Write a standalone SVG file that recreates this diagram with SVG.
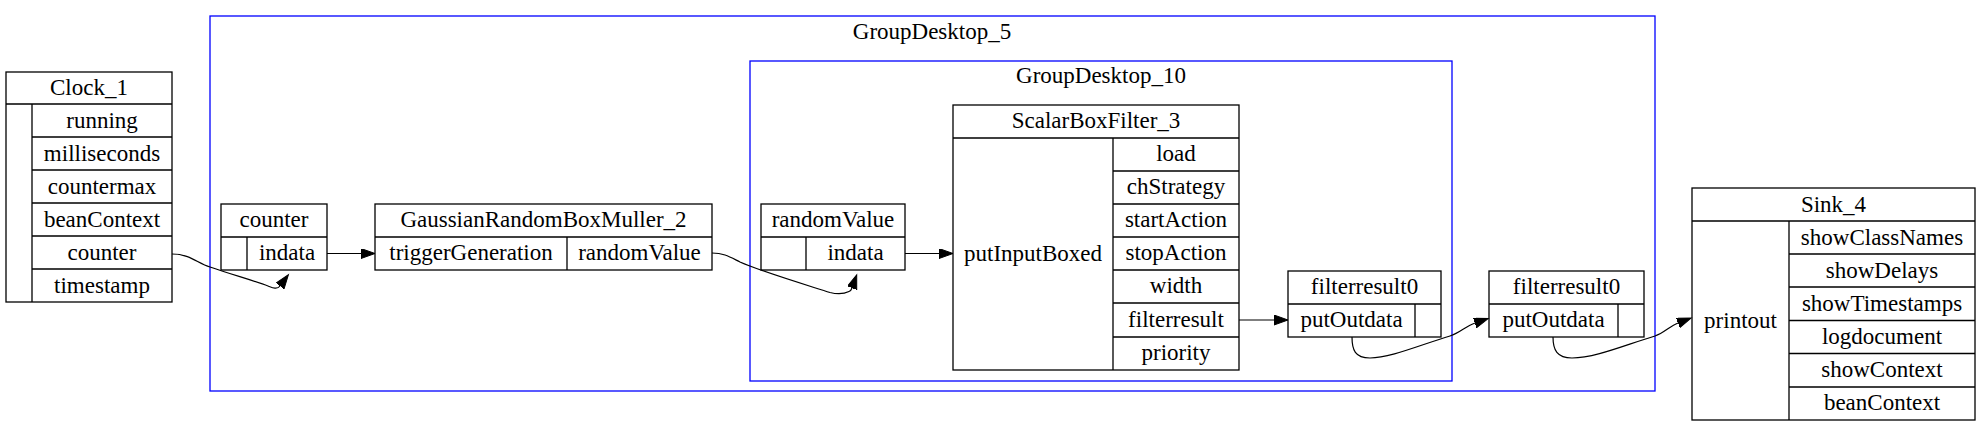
<svg xmlns="http://www.w3.org/2000/svg" width="1980" height="426" viewBox="0 0 1980 426">
<style>
text{font-family:'Liberation Serif',serif;font-size:23px;fill:#000;text-anchor:middle}
.box{fill:#fff;stroke:#000;stroke-width:1.3}
.ln{stroke:#000;stroke-width:1.3;fill:none}
.cl{fill:none;stroke:#0000ff;stroke-width:1.3}
.edge{fill:none;stroke:#000;stroke-width:1.2;marker-end:url(#arr)}
</style>
<defs>
<marker id="arr" markerUnits="userSpaceOnUse" markerWidth="16" markerHeight="12" refX="0" refY="5" orient="auto">
<path d="M0,0 L14,5 L0,10 z" fill="#000" stroke="#000" stroke-width="1"/>
</marker>
</defs>
<rect width="1980" height="426" fill="#fff"/>
<g id="GroupDesktop_5">
<rect class="cl" x="210" y="16" width="1445" height="375"/>
<text x="932" y="39">GroupDesktop_5</text>
</g>
<g id="GroupDesktop_10">
<rect class="cl" x="750" y="61" width="702" height="320"/>
<text x="1101" y="83">GroupDesktop_10</text>
</g>
<g id="Clock_1">
<rect class="box" x="6" y="72" width="166" height="230"/>
<path class="ln" d="M6,104H172M32,137H172M32,170H172M32,203H172M32,236H172M32,269H172M32,104V302"/>
<text x="89" y="95">Clock_1</text>
<text x="102" y="128">running</text>
<text x="102" y="161">milliseconds</text>
<text x="102" y="194">countermax</text>
<text x="102" y="227">beanContext</text>
<text x="102" y="260">counter</text>
<text x="102" y="293">timestamp</text>
</g>
<g id="counter">
<rect class="box" x="221" y="204" width="106" height="66"/>
<path class="ln" d="M221,237H327M247,237V270"/>
<text x="274" y="227">counter</text>
<text x="287" y="260">indata</text>
</g>
<g id="GaussianRandomBoxMuller_2">
<rect class="box" x="375" y="204" width="337" height="66"/>
<path class="ln" d="M375,237H712M567,237V270"/>
<text x="543.5" y="227">GaussianRandomBoxMuller_2</text>
<text x="471" y="260">triggerGeneration</text>
<text x="639.5" y="260">randomValue</text>
</g>
<g id="randomValue">
<rect class="box" x="761" y="204" width="144" height="66"/>
<path class="ln" d="M761,237H905M806,237V270"/>
<text x="833" y="227">randomValue</text>
<text x="855.5" y="260">indata</text>
</g>
<g id="ScalarBoxFilter_3">
<rect class="box" x="953" y="105" width="286" height="265"/>
<path class="ln" d="M953,138H1239M1113,138V370M1113,171H1239M1113,204H1239M1113,237H1239M1113,270H1239M1113,303H1239M1113,337H1239"/>
<text x="1096" y="128">ScalarBoxFilter_3</text>
<text x="1033" y="261">putInputBoxed</text>
<text x="1176" y="161">load</text>
<text x="1176" y="194">chStrategy</text>
<text x="1176" y="227">startAction</text>
<text x="1176" y="260">stopAction</text>
<text x="1176" y="293">width</text>
<text x="1176" y="327">filterresult</text>
<text x="1176" y="360">priority</text>
</g>
<g id="filterresult0_inner">
<rect class="box" x="1288" y="271" width="153" height="66"/>
<path class="ln" d="M1288,304H1441M1415,304V337"/>
<text x="1364.5" y="294">filterresult0</text>
<text x="1351.5" y="327">putOutdata</text>
</g>
<g id="filterresult0_outer">
<rect class="box" x="1489" y="271" width="155" height="66"/>
<path class="ln" d="M1489,304H1644M1618,304V337"/>
<text x="1566.5" y="294">filterresult0</text>
<text x="1553.5" y="327">putOutdata</text>
</g>
<g id="Sink_4">
<rect class="box" x="1692" y="188" width="283" height="232"/>
<path class="ln" d="M1692,221H1975M1789,221V420M1789,254H1975M1789,287H1975M1789,320.5H1975M1789,353.5H1975M1789,387H1975"/>
<text x="1833.5" y="212">Sink_4</text>
<text x="1740.5" y="328">printout</text>
<text x="1882" y="245">showClassNames</text>
<text x="1882" y="278">showDelays</text>
<text x="1882" y="311">showTimestamps</text>
<text x="1882" y="344">logdocument</text>
<text x="1882" y="377">showContext</text>
<text x="1882" y="410">beanContext</text>
</g>
<g id="connectors">
<path class="edge" d="M172,254 C190,254 197,263 210,267 C230,274 255,281 268,286 C272,287.5 277,290 280,286"/>
<path class="edge" d="M327,253.5 L361,253.5"/>
<path class="edge" d="M712,253 C724,253 730,257 740,262 C760,271 800,283 830,292.5 C840,295 846,293 849,291.5 C850.5,291 851,290.8 852,288"/>
<path class="edge" d="M905,253.5 L939,253.5"/>
<path class="edge" d="M1239,320 L1274,320"/>
<path class="edge" d="M1352,337 C1352,350 1355,358 1370,358 C1390,358 1420,345 1450,336 C1460,333 1466,326 1475,323"/>
<path class="edge" d="M1553,337 C1553,350 1557,358 1572,358 C1595,358 1625,345 1655,336 C1664,333 1670,326 1678,323"/>
</g>
</svg>
